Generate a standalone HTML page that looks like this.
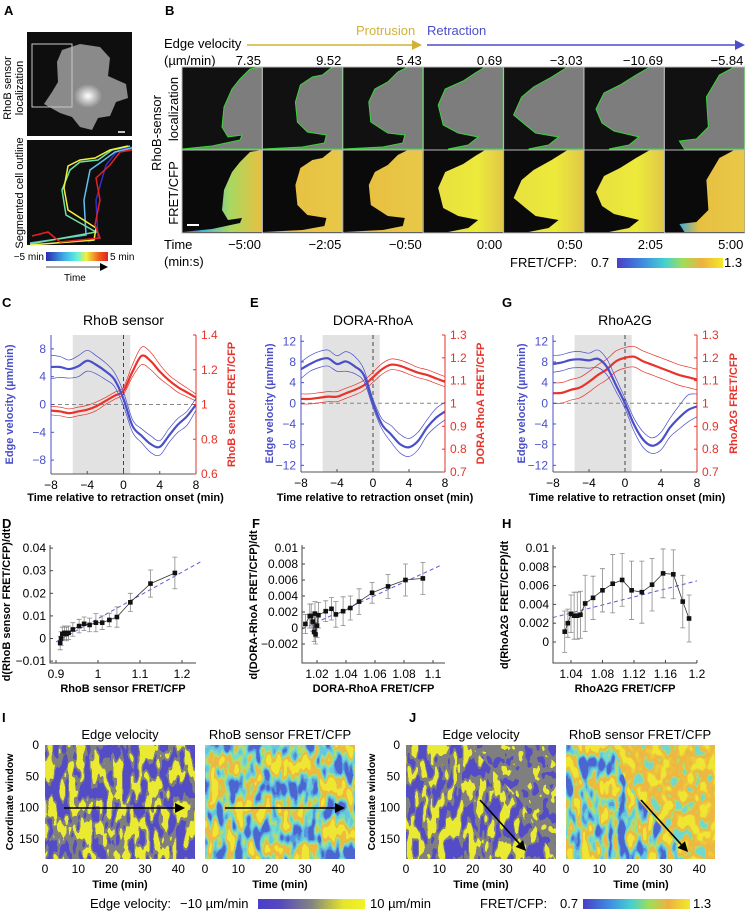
<!DOCTYPE html>
<html><head><meta charset="utf-8">
<style>
body{margin:0;background:#fff;}
svg{display:block;font-family:"Liberation Sans",Arial,sans-serif;}
.lbl{font-size:13px;font-weight:bold;}
.tk{font-size:11px;}
.bt{font-size:10.5px;font-weight:bold;}
.t13{font-size:13px;}
</style></head>
<body>
<svg id="fig" width="745" height="912" viewBox="0 0 745 912" xmlns="http://www.w3.org/2000/svg">
<defs>
<filter id="velTex" x="0" y="0" width="1" height="1" color-interpolation-filters="sRGB">
 <feTurbulence type="fractalNoise" baseFrequency="0.13 0.05" numOctaves="2" seed="4"/>
 <feColorMatrix type="matrix" values="1 0 0 0 0 1 0 0 0 0 1 0 0 0 0 0 0 0 0 1"/>
 <feComponentTransfer>
  <feFuncR type="discrete" tableValues="0.33 0.33 0.33 0.33 0.33 0.33 0.33 0.33 0.33 0.5 0.5 0.92 0.92 0.92 0.92 0.92 0.92 0.92 0.92 0.92"/>
  <feFuncG type="discrete" tableValues="0.3 0.3 0.3 0.3 0.3 0.3 0.3 0.3 0.3 0.5 0.5 0.92 0.92 0.92 0.92 0.92 0.92 0.92 0.92 0.92"/>
  <feFuncB type="discrete" tableValues="0.78 0.78 0.78 0.78 0.78 0.78 0.78 0.78 0.78 0.5 0.5 0.2 0.2 0.2 0.2 0.2 0.2 0.2 0.2 0.2"/>
 </feComponentTransfer>
</filter>
<filter id="velTexG" x="0" y="0" width="1" height="1" color-interpolation-filters="sRGB">
 <feTurbulence type="fractalNoise" baseFrequency="0.12 0.09" numOctaves="2" seed="9"/>
 <feColorMatrix type="matrix" values="1 0 0 0 0 1 0 0 0 0 1 0 0 0 0 0 0 0 0 1"/>
 <feComponentTransfer>
  <feFuncR type="discrete" tableValues="0.33 0.33 0.33 0.33 0.33 0.33 0.33 0.33 0.5 0.5 0.5 0.5 0.5 0.92 0.92 0.92 0.92 0.92 0.92 0.92"/>
  <feFuncG type="discrete" tableValues="0.3 0.3 0.3 0.3 0.3 0.3 0.3 0.3 0.5 0.5 0.5 0.5 0.5 0.92 0.92 0.92 0.92 0.92 0.92 0.92"/>
  <feFuncB type="discrete" tableValues="0.78 0.78 0.78 0.78 0.78 0.78 0.78 0.78 0.5 0.5 0.5 0.5 0.5 0.2 0.2 0.2 0.2 0.2 0.2 0.2"/>
 </feComponentTransfer>
</filter>
<filter id="fretTex" x="0" y="0" width="1" height="1" color-interpolation-filters="sRGB">
 <feTurbulence type="fractalNoise" baseFrequency="0.11 0.045" numOctaves="2" seed="11"/>
 <feColorMatrix type="matrix" values="1 0 0 0 0 1 0 0 0 0 1 0 0 0 0 0 0 0 0 1"/>
 <feComponentTransfer>
  <feFuncR type="discrete" tableValues="0.3 0.3 0.3 0.3 0.3 0.3 0.3 0.33 0.4 0.45 0.72 0.93 0.93 0.94 0.94 0.94 0.94 0.94 0.94 0.94"/>
  <feFuncG type="discrete" tableValues="0.4 0.4 0.4 0.4 0.4 0.4 0.4 0.6 0.78 0.86 0.86 0.72 0.74 0.9 0.9 0.9 0.9 0.9 0.9 0.9"/>
  <feFuncB type="discrete" tableValues="0.82 0.82 0.82 0.82 0.82 0.82 0.82 0.86 0.86 0.8 0.4 0.26 0.25 0.2 0.2 0.2 0.2 0.2 0.2 0.2"/>
 </feComponentTransfer>
</filter>
<filter id="fretTexHi" x="0" y="0" width="1" height="1" color-interpolation-filters="sRGB">
 <feTurbulence type="fractalNoise" baseFrequency="0.1 0.07" numOctaves="2" seed="21"/>
 <feColorMatrix type="matrix" values="1 0 0 0 0 1 0 0 0 0 1 0 0 0 0 0 0 0 0 1"/>
 <feComponentTransfer>
  <feFuncR type="discrete" tableValues="0.45 0.45 0.45 0.45 0.45 0.45 0.45 0.72 0.93 0.93 0.93 0.93 0.94 0.94 0.94 0.94 0.94 0.94 0.94 0.94"/>
  <feFuncG type="discrete" tableValues="0.85 0.85 0.85 0.85 0.85 0.85 0.85 0.86 0.72 0.72 0.75 0.8 0.9 0.9 0.9 0.9 0.9 0.9 0.9 0.9"/>
  <feFuncB type="discrete" tableValues="0.8 0.8 0.8 0.8 0.8 0.8 0.8 0.4 0.26 0.26 0.24 0.22 0.2 0.2 0.2 0.2 0.2 0.2 0.2 0.2"/>
 </feComponentTransfer>
</filter>
<linearGradient id="velBar" x1="0" x2="1"><stop offset="0" stop-color="#4a3ec6"/><stop offset="0.2" stop-color="#5548c0"/><stop offset="0.5" stop-color="#838383"/><stop offset="0.8" stop-color="#e6e62a"/><stop offset="1" stop-color="#f2f226"/></linearGradient>
<linearGradient id="fretBar" x1="0" x2="1"><stop offset="0" stop-color="#4a3ec6"/><stop offset="0.25" stop-color="#3f8ee0"/><stop offset="0.45" stop-color="#45d0d0"/><stop offset="0.62" stop-color="#9ede5a"/><stop offset="0.8" stop-color="#f0b040"/><stop offset="1" stop-color="#f2ea2a"/></linearGradient>
<linearGradient id="jetBar" x1="0" x2="1"><stop offset="0" stop-color="#2a2ab0"/><stop offset="0.3" stop-color="#40b0e8"/><stop offset="0.5" stop-color="#60f0e0"/><stop offset="0.65" stop-color="#f0f040"/><stop offset="0.85" stop-color="#f06020"/><stop offset="1" stop-color="#e02020"/></linearGradient>
<linearGradient id="cellEarly" x1="0" x2="1"><stop offset="0" stop-color="#4a50c8"/><stop offset="0.25" stop-color="#40b8d8"/><stop offset="0.6" stop-color="#a8d860"/><stop offset="1" stop-color="#e8c040"/></linearGradient>
<linearGradient id="cellMid" x1="0" x2="1"><stop offset="0" stop-color="#40a8d8"/><stop offset="0.3" stop-color="#e8c040"/><stop offset="1" stop-color="#e8c848"/></linearGradient>
<linearGradient id="cellLate" x1="0" x2="1"><stop offset="0" stop-color="#e8e040"/><stop offset="0.6" stop-color="#ecea3a"/><stop offset="1" stop-color="#e0c848"/></linearGradient>
<radialGradient id="brightSpot"><stop offset="0" stop-color="#fff"/><stop offset="1" stop-color="#fff" stop-opacity="0"/></radialGradient>
<clipPath id="clipJL"><polygon points="406,745 470,745 520,800 556,860 406,860"/></clipPath>
<clipPath id="clipJR"><polygon points="610,745 715,745 715,860 690,860 630,790"/></clipPath>
</defs>

<!-- Panel letters -->
<text x="4" y="15" class="lbl">A</text>
<text x="165" y="15" class="lbl">B</text>
<text x="2" y="307" class="lbl">C</text>
<text x="250" y="307" class="lbl">E</text>
<text x="502" y="307" class="lbl">G</text>
<text x="2" y="528" class="lbl">D</text>
<text x="252" y="528" class="lbl">F</text>
<text x="502" y="528" class="lbl">H</text>
<text x="2" y="722" class="lbl">I</text>
<text x="409" y="722" class="lbl">J</text>

<!-- Panel A -->
<g>
<text transform="translate(11,88) rotate(-90)" text-anchor="middle" font-size="11">RhoB sensor</text>
<text transform="translate(23,88) rotate(-90)" text-anchor="middle" font-size="11">localization</text>
<rect x="27" y="32" width="105" height="104" fill="#0e0e0e"/>
<polygon points="57,62 62,50 80,44 100,47 110,58 108,76 126,84 128,98 116,102 110,116 98,118 92,130 80,127 72,117 60,113 44,104 52,92 58,82" fill="#8a8a8a"/>
<ellipse cx="88" cy="96" rx="14" ry="12" fill="url(#brightSpot)"/>
<rect x="32" y="44" width="40" height="63" fill="none" stroke="#c8c8c8" stroke-width="1"/>
<line x1="118" y1="132" x2="125" y2="132" stroke="#fff" stroke-width="1.5"/>
<text transform="translate(23,193) rotate(-90)" text-anchor="middle" font-size="11">Segmented cell outline</text>
<rect x="27" y="140" width="105" height="105" fill="#0e0e0e"/>
<polyline points="132,147 118,150 106,165 96,200 98,238 88,242" fill="none" stroke="#3030c0" stroke-width="1.5"/>
<polyline points="132,148 115,152 104,160 90,170 84,200 86,235 30,243" fill="none" stroke="#60c0f0" stroke-width="1.5"/>
<polyline points="130,146 112,150 98,160 80,162 70,170 62,190 66,215 96,232 30,244" fill="none" stroke="#70e0a0" stroke-width="1.5"/>
<polyline points="128,146 110,150 95,158 80,160 68,166 64,188 68,210 96,228 94,240 30,245" fill="none" stroke="#f0f040" stroke-width="1.5"/>
<polyline points="132,150 120,152 110,165 96,178 100,200 95,225 100,238 60,242 48,232 32,236" fill="none" stroke="#e82020" stroke-width="1.5"/>
<rect x="46" y="252" width="62" height="9" fill="url(#jetBar)"/>
<text x="44" y="260" text-anchor="end" font-size="10">−5 min</text>
<text x="110" y="260" font-size="10">5 min</text>
<line x1="46" y1="267" x2="100" y2="267" stroke="#888" stroke-width="1.5"/>
<polygon points="100,263 108,267 100,271" fill="#000"/>
<text x="64" y="281" font-size="10">Time</text>
</g>

<!-- Panel B header -->
<g>
<text x="356" y="35" font-size="13" fill="#d2b234">Protrusion</text>
<text x="427" y="35" font-size="13" fill="#4a4fc8">Retraction</text>
<line x1="247" y1="45" x2="414" y2="45" stroke="#d2b234" stroke-width="1.5"/>
<polygon points="412,40 422,45 412,50" fill="#d2b234"/>
<line x1="427" y1="45" x2="737" y2="45" stroke="#4a4fc8" stroke-width="1.5"/>
<polygon points="735,40 745,45 735,50" fill="#4a4fc8"/>
<text x="164" y="48" class="t13">Edge velocity</text>
<text x="164" y="65" class="t13">(µm/min)</text>
<text transform="translate(161,133) rotate(-90)" text-anchor="middle" class="t13">RhoB-sensor</text>
<text transform="translate(178,109) rotate(-90)" text-anchor="middle" class="t13">localization</text>
<text transform="translate(178,193) rotate(-90)" text-anchor="middle" class="t13">FRET/CFP</text>
<g id="bCols"></g>
<rect x="182" y="67" width="563" height="166" fill="none" stroke="#bbb" stroke-width="1"/>
<line x1="187" y1="225" x2="199" y2="225" stroke="#fff" stroke-width="2"/>
<text x="164" y="249" class="t13">Time</text>
<text x="164" y="266" class="t13">(min:s)</text>
<text x="510" y="267" class="t13">FRET/CFP:</text>
<text x="591" y="267" class="t13">0.7</text>
<rect x="617" y="258" width="106" height="10" fill="url(#fretBar)"/>
<text x="724" y="267" class="t13">1.3</text>
</g>

<g id="charts"></g>

<!-- Panel I / J heatmaps -->
<g>
<text x="120" y="739" text-anchor="middle" class="t13">Edge velocity</text>
<text x="280" y="739" text-anchor="middle" class="t13">RhoB sensor FRET/CFP</text>
<rect x="45" y="745" width="150" height="114" filter="url(#velTex)"/>
<rect x="205" y="745" width="150" height="114" filter="url(#fretTex)"/>
<text transform="translate(13,802) rotate(-90)" text-anchor="middle" class="bt" font-size="11">Coordinate window</text>
</g>
<g>
<text x="481" y="739" text-anchor="middle" class="t13">Edge velocity</text>
<text x="640" y="739" text-anchor="middle" class="t13">RhoB sensor FRET/CFP</text>
<rect x="406" y="745" width="150" height="114" filter="url(#velTexG)"/>
<rect x="406" y="745" width="150" height="114" filter="url(#velTex)" clip-path="url(#clipJL)"/>
<rect x="566" y="745" width="149" height="114" filter="url(#fretTex)"/>
<rect x="566" y="745" width="149" height="114" filter="url(#fretTexHi)" clip-path="url(#clipJR)"/>
<text transform="translate(375,802) rotate(-90)" text-anchor="middle" class="bt" font-size="11">Coordinate window</text>
</g>
<g id="heatAxes"></g>
<g>
<text x="90" y="908" class="t13">Edge velocity:</text>
<text x="180" y="908" class="t13">−10 µm/min</text>
<rect x="258" y="899" width="107" height="10" fill="url(#velBar)"/>
<text x="370" y="908" class="t13">10 µm/min</text>
<text x="480" y="908" class="t13">FRET/CFP:</text>
<text x="560" y="908" class="t13">0.7</text>
<rect x="583" y="899" width="107" height="10" fill="url(#fretBar)"/>
<text x="693" y="908" class="t13">1.3</text>
</g>
</svg>

<script>
// ---------- Panel B data ----------
const bVelocities = ["7.35","9.52","5.43","0.69","−3.03","−10.69","−5.84"];
const bTimes = ["−5:00","−2:05","−0:50","0:00","0:50","2:05","5:00"];

// ---------- Panel C/E/G data (time relative to retraction onset) ----------
const timePoints = [-8,-7,-6,-5,-4,-3,-2,-1,0,1,2,3,4,5,6,7,8];
const cVelMean = [5.4,5.4,5.1,5.5,6.3,5.7,4.8,3.6,0.8,-3.1,-4.5,-5.7,-6.1,-4.5,-2.9,-1.7,0.0];
const cVelHi = [7.1,6.9,6.4,7.0,7.8,7.0,6.0,4.6,1.8,-2.2,-3.5,-4.5,-5.2,-3.5,-2.0,-1.0,0.9];
const cVelLo = [3.7,3.9,3.8,4.0,4.8,4.4,3.6,2.6,-0.2,-4.0,-5.5,-6.9,-7.3,-5.5,-4.0,-3.0,-0.8];
const cFretMean = [0.965,0.96,0.95,0.96,0.97,0.99,1.02,1.05,1.08,1.19,1.28,1.25,1.19,1.14,1.10,1.07,1.04];
const cFretHi = [0.99,0.985,0.975,0.985,0.995,1.015,1.04,1.07,1.10,1.23,1.33,1.30,1.23,1.17,1.13,1.095,1.06];
const cFretLo = [0.94,0.935,0.925,0.935,0.945,0.965,1.00,1.03,1.06,1.16,1.23,1.20,1.15,1.11,1.07,1.045,1.02];

const eVelMean = [6.6,7.6,8.4,8.7,7.6,8.1,7.1,5.4,0.0,-4.1,-6.0,-7.9,-8.5,-7.3,-4.7,-2.8,-1.6];
const eVelHi = [8.0,9.2,10.0,10.3,9.2,10.0,9.0,6.5,0.8,-3.0,-4.3,-6.0,-6.8,-5.6,-3.2,-1.0,0.2];
const eVelLo = [4.8,6.2,6.9,7.2,6.2,6.2,5.7,4.2,-0.8,-5.0,-7.5,-9.6,-10.3,-9.0,-6.2,-4.5,-3.2];
const eFretMean = [1.02,1.02,1.025,1.03,1.03,1.045,1.06,1.08,1.115,1.15,1.17,1.165,1.15,1.135,1.125,1.11,1.095];
const eFretHi = [1.042,1.042,1.047,1.052,1.052,1.067,1.082,1.102,1.137,1.175,1.195,1.19,1.175,1.158,1.148,1.133,1.118];
const eFretLo = [0.998,0.998,1.003,1.008,1.008,1.023,1.038,1.058,1.093,1.128,1.148,1.143,1.128,1.113,1.103,1.088,1.073];

const gVelMean = [7.6,7.9,8.4,8.5,8.3,8.6,7.0,3.5,0.0,-4.1,-7.0,-8.2,-7.3,-4.7,-2.8,-1.3,-0.6];
const gVelHi = [9.2,9.4,9.9,10.0,9.7,10.3,8.5,4.8,1.0,-2.9,-5.5,-6.7,-5.6,-2.9,-0.5,1.6,1.8];
const gVelLo = [6.0,6.3,6.8,6.9,6.8,6.9,5.5,2.3,-1.0,-5.4,-8.5,-9.7,-9.0,-6.5,-5.0,-3.6,-2.6];
const gFretMean = [1.045,1.047,1.06,1.07,1.095,1.125,1.15,1.185,1.2,1.205,1.185,1.17,1.155,1.14,1.125,1.115,1.105];
const gFretHi = [1.09,1.092,1.105,1.115,1.14,1.17,1.195,1.23,1.245,1.25,1.23,1.215,1.2,1.185,1.17,1.16,1.15];
const gFretLo = [1.0,1.002,1.015,1.025,1.05,1.08,1.105,1.14,1.155,1.16,1.14,1.125,1.11,1.095,1.08,1.07,1.06];

const timeTicks = [-8,-4,0,4,8];
const cVelTicks = [-8,-4,0,4,8];
const cFretTicks = [0.6,0.8,1,1.2,1.4];
const egVelTicks = [-12,-8,-4,0,4,8,12];
const egFretTicks = [0.7,0.8,0.9,1,1.1,1.2,1.3];

// ---------- Panel D/F/H data ----------
const dX = [0.91,0.912,0.915,0.92,0.925,0.93,0.94,0.955,0.967,0.98,0.995,1.01,1.027,1.045,1.077,1.125,1.183];
const dY = [-0.002,0.0,0.002,0.0025,0.002,0.0025,0.004,0.0055,0.0065,0.006,0.007,0.007,0.0082,0.0095,0.016,0.0243,0.029];
const dErr = [0.003,0.003,0.003,0.003,0.003,0.003,0.003,0.003,0.003,0.003,0.004,0.003,0.003,0.0045,0.004,0.006,0.007];
const dFit = [[0.9,-0.0015],[1.245,0.034]];
const dXTicks = [0.9,1,1.1,1.2];
const dYTicks = [-0.01,0,0.01,0.02,0.03,0.04];

const fX = [1.012,1.015,1.017,1.018,1.019,1.02,1.016,1.0186,1.021,1.026,1.030,1.033,1.038,1.043,1.049,1.058,1.069,1.081,1.093];
const fY = [0.0005,0.0015,0.0008,-0.0005,-0.0008,0.0003,0.0015,0.0018,0.0016,0.0021,0.0024,0.0017,0.0021,0.0025,0.0033,0.0044,0.0052,0.006,0.0062];
const fErr = [0.0012,0.0015,0.0012,0.0012,0.0012,0.0015,0.0015,0.0015,0.0016,0.0013,0.0014,0.0016,0.0018,0.0015,0.0016,0.0013,0.0015,0.002,0.002];
const fFit = [[1.01,-0.0001],[1.105,0.0078]];
const fXTicks = [1.02,1.04,1.06,1.08,1.1];
const fYTicks = [-0.002,0,0.002,0.004,0.006,0.008,0.01];

const hX = [1.032,1.036,1.040,1.044,1.048,1.052,1.058,1.068,1.080,1.093,1.105,1.117,1.130,1.143,1.157,1.170,1.182,1.190];
const hY = [0.0011,0.002,0.003,0.0028,0.0028,0.0029,0.0041,0.0047,0.0055,0.0062,0.0066,0.0055,0.0053,0.0061,0.0073,0.0072,0.0043,0.0025];
const hErr = [0.0022,0.0015,0.002,0.0025,0.0025,0.0025,0.003,0.0023,0.0023,0.0031,0.0028,0.0031,0.0033,0.0028,0.0026,0.0026,0.0028,0.0025];
const hFit = [[1.017,0.0026],[1.2,0.0065]];
const hXTicks = [1.04,1.08,1.12,1.16,1.2];
const hYTicks = [0,0.002,0.004,0.006,0.008,0.01];

// ---------- Heatmap axes ----------
const heatXTicks = [0,10,20,30,40];
const heatYTicks = [0,50,100,150];

const NS = "http://www.w3.org/2000/svg";
function mk(tag, attrs, parent){
  const el = document.createElementNS(NS, tag);
  for (const k in attrs) el.setAttribute(k, attrs[k]);
  parent.appendChild(el);
  return el;
}
function txt(str, attrs, parent){
  const el = mk("text", attrs, parent);
  el.textContent = str;
  return el;
}
function fmt(v){ return (v<0?"−":"") + String(Math.abs(+v.toFixed(4))); }
function smooth(pts){
  let d = "M"+pts[0][0].toFixed(2)+","+pts[0][1].toFixed(2);
  for (let i=0;i<pts.length-1;i++){
    const p0=pts[Math.max(0,i-1)], p1=pts[i], p2=pts[i+1], p3=pts[Math.min(pts.length-1,i+2)];
    const c1=[p1[0]+(p2[0]-p0[0])/6, p1[1]+(p2[1]-p0[1])/6];
    const c2=[p2[0]-(p3[0]-p1[0])/6, p2[1]-(p3[1]-p1[1])/6];
    d += " C"+c1[0].toFixed(2)+","+c1[1].toFixed(2)+" "+c2[0].toFixed(2)+","+c2[1].toFixed(2)+" "+p2[0].toFixed(2)+","+p2[1].toFixed(2);
  }
  return d;
}

// ---------- Panel B columns ----------
const bCols = document.getElementById("bCols");
const colShapes = [
 [[68,2],[80,0],[80,82],[0,82],[30,79],[58,73],[60,68],[46,70],[40,60],[42,40],[50,22],[58,12]],
 [[70,0],[80,0],[80,82],[0,82],[40,80],[62,76],[64,68],[45,65],[35,55],[33,35],[38,18],[50,10],[60,8]],
 [[65,0],[80,0],[80,82],[0,82],[40,80],[60,76],[62,68],[45,66],[28,55],[26,35],[32,22],[45,15],[55,5]],
 [[62,0],[80,0],[80,82],[25,82],[45,78],[55,70],[35,66],[20,58],[15,38],[22,22],[40,14],[52,6]],
 [[64,0],[80,0],[80,82],[25,82],[45,78],[55,70],[32,66],[22,58],[10,48],[18,30],[30,20],[48,10]],
 [[66,0],[80,0],[80,82],[25,82],[45,78],[55,70],[30,64],[18,56],[12,42],[20,26],[36,18],[52,8]],
 [[70,0],[80,0],[80,82],[20,82],[15,74],[32,72],[44,60],[42,30],[55,8]]
];
const cellFills = ["url(#cellEarly)","url(#cellMid)","url(#cellMid)","url(#cellLate)","url(#cellLate)","url(#cellLate)","url(#cellMid)"];
for (let i=0;i<bVelocities.length;i++){
  const x0 = 182 + i*80.4;
  const bgTop = mk("rect",{x:x0,y:67,width:80.4,height:83,fill:"#111"},bCols);
  
  
  const bgBot = mk("rect",{x:x0,y:150,width:80.4,height:83,fill:"#0a0a0a"},bCols);
  
  
  const ptsTop = colShapes[i].map(p=>(x0+p[0]).toFixed(1)+","+(67+p[1]).toFixed(1)).join(" ");
  const ptsBot = colShapes[i].map(p=>(x0+p[0]).toFixed(1)+","+(150+p[1]).toFixed(1)).join(" ");
  const cTop = mk("polygon",{points:ptsTop,fill:"#7d7d7d",stroke:"#3cd23c","stroke-width":"1"},bCols);
  
  
  const cBot = mk("polygon",{points:ptsBot,fill:cellFills[i]},bCols);
  
  
  if (i>0){
    const dv = mk("line",{x1:x0,y1:67,x2:x0,y2:233,stroke:"#bbb","stroke-width":"1"},bCols);
    
    
  }
  const v = txt(bVelocities[i],{x:x0+79,y:65,"text-anchor":"end","font-size":"13"},bCols);
  
  
  const t = txt(bTimes[i],{x:x0+79,y:249,"text-anchor":"end","font-size":"13"},bCols);
  
  
}
const rowDiv = mk("line",{x1:182,y1:150,x2:745,y2:150,stroke:"#bbb","stroke-width":"1"},bCols);



// ---------- Dual-axis line charts ----------
const charts = document.getElementById("charts");
const BLUE="#4a4fc8", RED="#e8322a";
function dualChart(cfg){
  const g = mk("g",{},charts);
  
  
  const xS = t => cfg.L + (t+8)/16*(cfg.R-cfg.L);
  const vS = v => cfg.v0 - v*cfg.vK;
  const fS = f => cfg.B - (f-cfg.fMin)/(cfg.fMax-cfg.fMin)*(cfg.B-cfg.T);
  const title = txt(cfg.title,{x:(cfg.L+cfg.R)/2,y:325,"text-anchor":"middle","font-size":"14"},g);
  
  
  const sh = mk("rect",{x:xS(-5.6),y:cfg.T,width:xS(0.75)-xS(-5.6),height:cfg.B-cfg.T,fill:"#e2e2e2"},g);
  
  
  const z = mk("line",{x1:cfg.L,y1:vS(0),x2:cfg.R,y2:vS(0),stroke:"#888","stroke-dasharray":"4,3","stroke-width":"1"},g);
  
  
  const vz = mk("line",{x1:xS(0),y1:cfg.T,x2:xS(0),y2:cfg.B,stroke:"#444","stroke-dasharray":"4,3","stroke-width":"1"},g);
  
  
  const series = [
    [cfg.fLo,fS,RED,0.7,'fret-lower-band'],[cfg.fHi,fS,RED,0.7,'fret-upper-band'],[cfg.fMean,fS,RED,2.2,'fret-mean-line'],
    [cfg.vLo,vS,BLUE,0.7,'velocity-lower-band'],[cfg.vHi,vS,BLUE,0.7,'velocity-upper-band'],[cfg.vMean,vS,BLUE,2.2,'velocity-mean-line']
  ];
  for (const s of series){
    const pts = timePoints.map((t,i)=>[xS(t), s[1](s[0][i])]);
    const p = mk("path",{d:smooth(pts),fill:"none",stroke:s[2],"stroke-width":s[3]},g);
    
    
  }
  const la = mk("line",{x1:cfg.L,y1:cfg.T,x2:cfg.L,y2:cfg.B,stroke:BLUE,"stroke-width":"1"},g);
  
  
  const ra = mk("line",{x1:cfg.R,y1:cfg.T,x2:cfg.R,y2:cfg.B,stroke:RED,"stroke-width":"1"},g);
  
  
  const ba = mk("line",{x1:cfg.L,y1:cfg.B,x2:cfg.R,y2:cfg.B,stroke:"#555","stroke-width":"1"},g);
  
  
  for (const t of timeTicks){
    const tk = mk("line",{x1:xS(t),y1:cfg.B,x2:xS(t),y2:cfg.B-3,stroke:"#555"},g);
    
    
    const tl = txt(fmt(t),{x:xS(t),y:cfg.B+15,"text-anchor":"middle","font-size":"12"},g);
    
    
  }
  for (const v of cfg.vTicks){
    const tk = mk("line",{x1:cfg.L,y1:vS(v),x2:cfg.L+3,y2:vS(v),stroke:BLUE},g);
    
    
    const tl = txt(fmt(v),{x:cfg.L-5,y:vS(v)+4,"text-anchor":"end","font-size":"12",fill:BLUE},g);
    
    
  }
  for (const f of cfg.fTicks){
    const tk = mk("line",{x1:cfg.R,y1:fS(f),x2:cfg.R-3,y2:fS(f),stroke:RED},g);
    
    
    const tl = txt(String(+f.toFixed(2)),{x:cfg.R+5,y:fS(f)+4,"font-size":"12",fill:RED},g);
    
    
  }
  const xl = txt("Time relative to retraction onset (min)",{x:(cfg.L+cfg.R)/2+2,y:501,"text-anchor":"middle","font-size":"11","font-weight":"bold"},g);
  
  
  const yl = txt("Edge velocity (µm/min)",{transform:"translate("+cfg.yLx+","+((cfg.T+cfg.B)/2)+") rotate(-90)","text-anchor":"middle","font-size":"11","font-weight":"bold",fill:BLUE},g);
  
  
  const yr = txt(cfg.fLabel,{transform:"translate("+cfg.yRx+","+((cfg.T+cfg.B)/2)+") rotate(-90)","text-anchor":"middle","font-size":"11","font-weight":"bold",fill:RED},g);
  
  
}
dualChart({name:"chart-c-rhob",title:"RhoB sensor",L:51,R:196,T:335,B:474,v0:404.5,vK:6.95,fMin:0.6,fMax:1.4,
  vMean:cVelMean,vHi:cVelHi,vLo:cVelLo,fMean:cFretMean,fHi:cFretHi,fLo:cFretLo,vTicks:cVelTicks,fTicks:cFretTicks,
  yLx:13,yRx:235,fLabel:"RhoB sensor FRET/CFP"});
dualChart({name:"chart-e-dora",title:"DORA-RhoA",L:301,R:445,T:335,B:472,v0:403.3,vK:5.17,fMin:0.7,fMax:1.3,
  vMean:eVelMean,vHi:eVelHi,vLo:eVelLo,fMean:eFretMean,fHi:eFretHi,fLo:eFretLo,vTicks:egVelTicks,fTicks:egFretTicks,
  yLx:273,yRx:484,fLabel:"DORA-RhoA FRET/CFP"});
dualChart({name:"chart-g-rhoa2g",title:"RhoA2G",L:553,R:697,T:335,B:472,v0:403.3,vK:5.17,fMin:0.7,fMax:1.3,
  vMean:gVelMean,vHi:gVelHi,vLo:gVelLo,fMean:gFretMean,fHi:gFretHi,fLo:gFretLo,vTicks:egVelTicks,fTicks:egFretTicks,
  yLx:525,yRx:737,fLabel:"RhoA2G FRET/CFP"});

// ---------- Scatter charts ----------
function scatter(cfg){
  const g = mk("g",{},charts);
  
  
  const xS = v => cfg.x0px + (v-cfg.x0)*cfg.xK;
  const yS = v => cfg.y0px - v*cfg.yK;
  const fit = mk("line",{x1:xS(cfg.fit[0][0]),y1:yS(cfg.fit[0][1]),x2:xS(cfg.fit[1][0]),y2:yS(cfg.fit[1][1]),stroke:"#5a5ad8","stroke-dasharray":"4,3","stroke-width":"1"},g);
  
  
  for (let i=0;i<cfg.X.length;i++){
    const x=xS(cfg.X[i]), y1=yS(cfg.Y[i]-cfg.E[i]), y2=yS(cfg.Y[i]+cfg.E[i]);
    const eb = mk("path",{d:"M"+x+","+y1+"V"+y2+"M"+(x-2.5)+","+y1+"H"+(x+2.5)+"M"+(x-2.5)+","+y2+"H"+(x+2.5),stroke:"#8a8a8a","stroke-width":"0.8",fill:"none"},g);
    
    
  }
  const order = cfg.X.map((x,i)=>i).sort((a,b)=>cfg.X[a]-cfg.X[b]);
  const ln = mk("polyline",{points:order.map(i=>xS(cfg.X[i]).toFixed(1)+","+yS(cfg.Y[i]).toFixed(1)).join(" "),fill:"none",stroke:"#333","stroke-width":"0.8"},g);
  
  
  for (let i=0;i<cfg.X.length;i++){
    const m = mk("rect",{x:xS(cfg.X[i])-2.3,y:yS(cfg.Y[i])-2.3,width:4.6,height:4.6,fill:"#111"},g);
    
    
  }
  const ax = mk("path",{d:"M"+cfg.L+","+cfg.T+"V"+cfg.B+"H"+cfg.R,fill:"none",stroke:"#444","stroke-width":"1"},g);
  
  
  for (const v of cfg.xt){
    const tk = mk("line",{x1:xS(v),y1:cfg.B,x2:xS(v),y2:cfg.B-3,stroke:"#444"},g);
    
    
    const tl = txt(String(v),{x:xS(v),y:cfg.B+15,"text-anchor":"middle","font-size":"12"},g);
    
    
  }
  for (const v of cfg.yt){
    const tk = mk("line",{x1:cfg.L,y1:yS(v),x2:cfg.L+3,y2:yS(v),stroke:"#444"},g);
    
    
    const tl = txt(v===0?"0":fmt(v),{x:cfg.L-4,y:yS(v)+4,"text-anchor":"end","font-size":"12"},g);
    
    
  }
  const xl = txt(cfg.xLabel,{x:(cfg.L+cfg.R)/2,y:692,"text-anchor":"middle","font-size":"11","font-weight":"bold"},g);
  
  
  const yl = txt(cfg.yLabel,{transform:"translate("+cfg.yLx+",605) rotate(-90)","text-anchor":"middle","font-size":"11","font-weight":"bold"},g);
  
  
}
scatter({name:"chart-d-rhob-rate",X:dX,Y:dY,E:dErr,fit:dFit,xt:dXTicks,yt:dYTicks,L:50,R:196,T:545,B:663,
  x0:0.9,x0px:56,xK:420,y0px:638.5,yK:2260,xLabel:"RhoB sensor FRET/CFP",yLabel:"d(RhoB sensor FRET/CFP)/dt",yLx:10});
scatter({name:"chart-f-dora-rate",X:fX,Y:fY,E:fErr,fit:fFit,xt:fXTicks,yt:fYTicks,L:302,R:445,T:545,B:663,
  x0:1.02,x0px:317,xK:1450,y0px:628,yK:8000,xLabel:"DORA-RhoA FRET/CFP",yLabel:"d(DORA-RhoA FRET/CFP)/dt",yLx:257});
scatter({name:"chart-h-rhoa2g-rate",X:hX,Y:hY,E:hErr,fit:hFit,xt:hXTicks,yt:hYTicks,L:553,R:697,T:545,B:663,
  x0:1.04,x0px:571,xK:787,y0px:642,yK:9400,xLabel:"RhoA2G FRET/CFP",yLabel:"d(RhoA2G FRET/CFP)/dt",yLx:508});

// ---------- Heatmap axes & arrows ----------
const ha = document.getElementById("heatAxes");
const maps = [{L:45,yt:true},{L:205,yt:false},{L:406,yt:true},{L:566,yt:false}];
for (const m of maps){
  const xS = v => m.L + v*3.333;
  const yS = v => 745 + v*0.627;
  for (const v of heatXTicks){
    const tl = txt(String(v),{x:xS(v),y:873,"text-anchor":"middle","font-size":"12"},ha);
    
    
  }
  const xt = txt("Time (min)",{x:m.L+75,y:888,"text-anchor":"middle","font-size":"11","font-weight":"bold"},ha);
  
  
  if (m.yt){
    for (const v of heatYTicks){
      const tl = txt(String(v),{x:m.L-6,y:yS(v)+4,"text-anchor":"end","font-size":"12"},ha);
      
      
    }
  }
}
const arrows = [[64,808,185,808],[225,808,345,808],[480,800,526,851],[641,800,688,852]];
for (const a of arrows){
  const ang = Math.atan2(a[3]-a[1], a[2]-a[0]);
  const hx = a[2]-10*Math.cos(ang), hy = a[3]-10*Math.sin(ang);
  const ln = mk("line",{x1:a[0],y1:a[1],x2:hx,y2:hy,stroke:"#000","stroke-width":"1.6"},ha);
  
  
  const px = -Math.sin(ang)*5, py = Math.cos(ang)*5;
  const hd = mk("polygon",{points:a[2]+","+a[3]+" "+(hx+px)+","+(hy+py)+" "+(hx-px)+","+(hy-py),fill:"#000"},ha);
  
  
}
</script>
</body></html>
